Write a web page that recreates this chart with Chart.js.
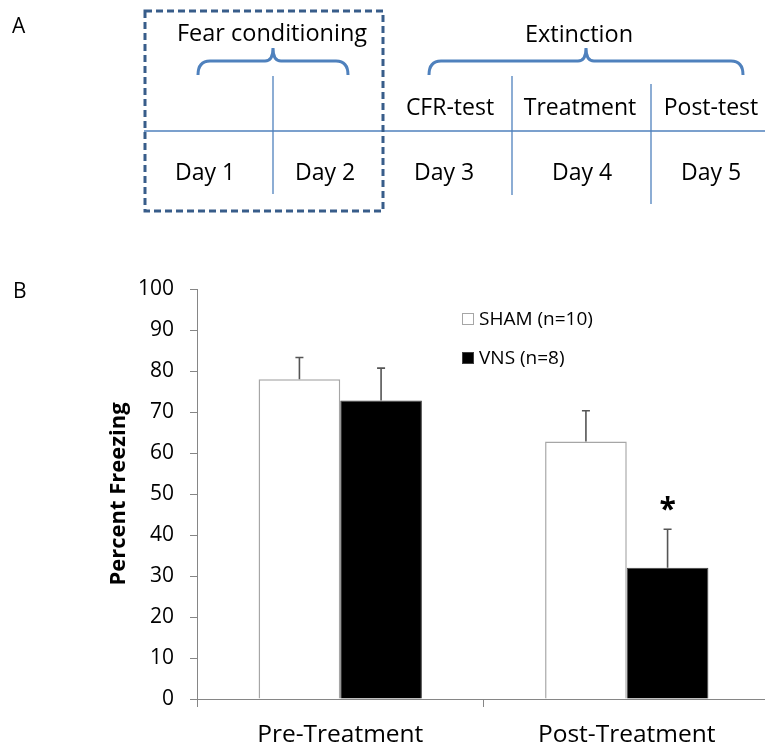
<!DOCTYPE html>
<html>
<head>
<meta charset="utf-8">
<script src="https://cdn.jsdelivr.net/npm/chart.js@4"></script>
<style>
  html, body { margin: 0; padding: 0; background: #fff; }
  #wrap { position: relative; width: 765px; height: 747px; overflow: hidden; background: #fff; }
  #chartBox { position: absolute; left: 0; top: 0; width: 780px; height: 747px; }
  #panelA { position: absolute; left: 0; top: 0; pointer-events: none; }
  #panelA text { font-family: "Open Sans", sans-serif; fill: #000; }
</style>
</head>
<body>
<div id="wrap">
  <div id="chartBox"><canvas id="c" width="780" height="747"></canvas></div>
  <svg id="panelA" width="765" height="747" xmlns="http://www.w3.org/2000/svg">
    <text x="12" y="33" font-size="21">A</text>
    <text x="13" y="298" font-size="21">B</text>
    <!-- timeline -->
    <line x1="144" y1="131" x2="765" y2="131" stroke="#4F81BD" stroke-width="1.3"/>
    <line x1="273" y1="76" x2="273" y2="194" stroke="#4F81BD" stroke-width="1.3"/>
    <line x1="512" y1="76" x2="512" y2="195" stroke="#4F81BD" stroke-width="1.3"/>
    <line x1="651" y1="84" x2="651" y2="204" stroke="#4F81BD" stroke-width="1.3"/>
    <rect x="145" y="11" width="238" height="200" fill="none" stroke="#385D8A" stroke-width="3" stroke-dasharray="7 4"/>
    <path d="M198,75 Q198,61 210,61 L265,61 Q273,61 273,48 Q273,61 281,61 L336,61 Q348,61 348,75" fill="none" stroke="#4F81BD" stroke-width="3"/>
    <path d="M429,75 Q429,61 441,61 L578,61 Q586,61 586,48 Q586,61 594,61 L731,61 Q743,61 743,75" fill="none" stroke="#4F81BD" stroke-width="3"/>
    <text x="272" y="41" font-size="23.5" text-anchor="middle">Fear conditioning</text>
    <text x="579" y="42" font-size="23.5" text-anchor="middle">Extinction</text>
    <text x="450" y="115" font-size="23" text-anchor="middle">CFR-test</text>
    <text x="580" y="115" font-size="23" text-anchor="middle">Treatment</text>
    <text x="711" y="115" font-size="23" text-anchor="middle">Post-test</text>
    <text x="205" y="180" font-size="23" text-anchor="middle">Day 1</text>
    <text x="325" y="180" font-size="23" text-anchor="middle">Day 2</text>
    <text x="444" y="180" font-size="23" text-anchor="middle">Day 3</text>
    <text x="582" y="180" font-size="23" text-anchor="middle">Day 4</text>
    <text x="711" y="180" font-size="23" text-anchor="middle">Day 5</text>
  </svg>
</div>
<script>
// ---- data ----
const categories = ['Pre-Treatment', 'Post-Treatment'];
const seriesLabels = ['SHAM (n=10)', 'VNS (n=8)'];
const shamMeans = [78.0, 62.8];
const shamErr = [5.3, 7.5];
const vnsMeans = [72.8, 32.0];
const vnsErr = [7.9, 9.4];
const vnsSig = ['', '*'];
const yMin = 0, yMax = 100, yStep = 10;
const yTitle = 'Percent Freezing';

const FONT = '"Open Sans", sans-serif';
const AXIS_GREY = '#868686';

const errorBars = {
  id: 'errorBars',
  afterDatasetsDraw(chart) {
    const ctx = chart.ctx;
    const y = chart.scales.y;
    ctx.save();
    chart.data.datasets.forEach((ds, di) => {
      const meta = chart.getDatasetMeta(di);
      meta.data.forEach((bar, i) => {
        const v = ds.data[i], e = ds.errors[i];
        const yTop = y.getPixelForValue(v + e);
        const yBase = y.getPixelForValue(v);
        ctx.strokeStyle = '#555';
        ctx.lineWidth = 1.6;
        ctx.beginPath();
        ctx.moveTo(bar.x, yBase);
        ctx.lineTo(bar.x, yTop);
        ctx.moveTo(bar.x - 4, yTop);
        ctx.lineTo(bar.x + 4, yTop);
        ctx.stroke();
        const sig = ds.sig ? ds.sig[i] : '';
        if (sig) {
          ctx.fillStyle = '#000';
          ctx.font = 'bold 30px ' + FONT;
          ctx.textAlign = 'center';
          ctx.textBaseline = 'alphabetic';
          ctx.fillText(sig, bar.x, yTop - 27 + 17);
        }
      });
    });
    ctx.restore();
  }
};

const innerLegend = {
  id: 'innerLegend',
  afterDraw(chart) {
    const ctx = chart.ctx;
    const a = chart.chartArea;
    ctx.save();
    chart.data.datasets.forEach((ds, i) => {
      const x = a.left + 265;
      const yc = a.top + 30 + i * 39;
      ctx.fillStyle = ds.backgroundColor;
      ctx.fillRect(x, yc - 6, 12, 12);
      ctx.strokeStyle = ds.borderColor;
      ctx.lineWidth = 1;
      ctx.strokeRect(x + 0.5, yc - 5.5, 11, 11);
      ctx.fillStyle = '#000';
      ctx.font = '19px ' + FONT;
      ctx.textAlign = 'left';
      ctx.textBaseline = 'middle';
      ctx.fillText(ds.label, x + 17, yc + 1);
    });
    ctx.restore();
  }
};

new Chart(document.getElementById('c'), {
  type: 'bar',
  data: {
    labels: categories,
    datasets: [
      { label: seriesLabels[0], data: shamMeans, errors: shamErr,
        backgroundColor: '#ffffff', borderColor: '#a6a6a6', borderWidth: 1.5 },
      { label: seriesLabels[1], data: vnsMeans, errors: vnsErr, sig: vnsSig,
        backgroundColor: '#000000', borderColor: '#404040', borderWidth: 1 }
    ]
  },
  options: {
    responsive: false,
    animation: false,
    devicePixelRatio: 1,
    layout: { padding: { top: 289, left: 0, right: 10, bottom: 0 } },
    datasets: { bar: { categoryPercentage: 0.57, barPercentage: 1.0 } },
    plugins: { legend: { display: false }, tooltip: { enabled: false } },
    scales: {
      x: {
        grid: { display: true, drawOnChartArea: false, drawTicks: true, tickLength: 8, color: AXIS_GREY, offset: true },
        border: { display: true, color: AXIS_GREY, width: 1 },
        ticks: { color: '#000', font: { family: FONT, size: 24.5 }, padding: 13, maxRotation: 0 },
        afterFit(scale) { scale.height = 48; }
      },
      y: {
        min: yMin, max: yMax,
        grid: { display: true, drawOnChartArea: false, drawTicks: true, tickLength: 7, color: AXIS_GREY },
        border: { display: true, color: AXIS_GREY, width: 1 },
        ticks: { stepSize: yStep, color: '#000', font: { family: FONT, size: 21 }, padding: 16 },
        title: { display: true, text: yTitle, color: '#000', font: { family: FONT, size: 22, weight: 'bold' }, padding: { top: 106, bottom: 0 } },
        afterFit(scale) { scale.width = 197; }
      }
    }
  },
  plugins: [errorBars, innerLegend]
});
</script>
</body>
</html>
